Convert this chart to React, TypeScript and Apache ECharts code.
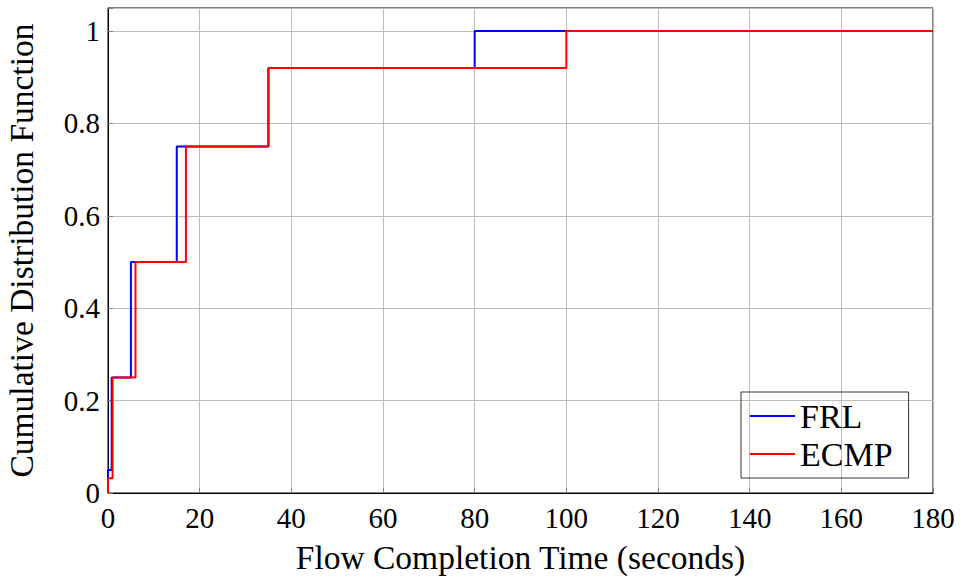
import React, { useEffect, useRef } from "react";
import * as echarts from "echarts";

const seriesNames = ["FRL", "ECMP"];
const frlPoints: [number, number][] = [
  [0, 0], [0, 0.05], [0.8, 0.25], [5, 0.5], [15, 0.75], [35, 0.92], [80, 1], [180, 1],
];
const ecmpPoints: [number, number][] = [
  [0, 0], [0, 0.032], [1, 0.25], [6, 0.5], [17, 0.75], [35, 0.92], [100, 1], [180, 1],
];
const xTitle = "Flow Completion Time (seconds)";
const yTitle = "Cumulative Distribution Function";

const FONT = "'Liberation Serif', 'DejaVu Serif', serif";

export default function App() {
  const ref = useRef<HTMLDivElement>(null);
  useEffect(() => {
    if (!ref.current) return;
    const chart = echarts.init(ref.current, undefined, { renderer: "svg" });
    chart.setOption({
      animation: false,
      textStyle: { fontFamily: FONT, color: "#000" },
      grid: {
        left: 108, right: 29, top: 8, bottom: 85,
        containLabel: false,
        outerBoundsMode: "none",
        show: true, borderColor: "#000", borderWidth: 1, backgroundColor: "transparent",
      },
      legend: {
        orient: "vertical",
        left: 741,
        top: 392,
        data: seriesNames,
        icon: "rect",
        itemWidth: 45,
        itemHeight: 2,
        itemGap: 4,
        borderColor: "#333",
        borderWidth: 1,
        borderRadius: 0,
        padding: [7, 16, 7, 9],
        textStyle: { fontFamily: FONT, fontSize: 34, color: "#000" },
      },
      xAxis: {
        type: "value",
        min: 0,
        max: 180,
        interval: 20,
        name: xTitle,
        nameLocation: "middle",
        nameGap: 47,
        nameTextStyle: { fontFamily: FONT, fontSize: 33.5, color: "#000" },
        axisLine: { show: true, onZero: false, lineStyle: { color: "#000", width: 1 } },
        axisTick: { show: true, inside: true, length: 5, lineStyle: { color: "#808080" } },
        axisLabel: { fontFamily: FONT, fontSize: 29, color: "#000", margin: 10 },
        splitLine: { show: true, lineStyle: { color: "#bdbdbd", width: 1 } },
      },
      yAxis: {
        type: "value",
        min: 0,
        max: 1.05,
        interval: 0.2,
        name: yTitle,
        nameLocation: "middle",
        nameGap: 70,
        nameTextStyle: { fontFamily: FONT, fontSize: 33.5, color: "#000" },
        axisLine: { show: true, lineStyle: { color: "#000", width: 1 } },
        axisTick: { show: true, inside: true, length: 5, lineStyle: { color: "#808080" } },
        axisLabel: {
          fontFamily: FONT,
          fontSize: 29,
          color: "#000",
          margin: 8,
          formatter: (v: number) => (v > 1.001 ? "" : String(Math.round(v * 10) / 10)),
        },
        splitLine: { show: true, lineStyle: { color: "#bdbdbd", width: 1 } },
      },
      series: [
        {
          name: seriesNames[0],
          type: "line",
          step: "end",
          data: frlPoints,
          showSymbol: false,
          symbol: "none",
          lineStyle: { color: "#0000ff", width: 2 },
          itemStyle: { color: "#0000ff" },
          z: 2,
        },
        {
          name: seriesNames[1],
          type: "line",
          step: "end",
          data: ecmpPoints,
          showSymbol: false,
          symbol: "none",
          lineStyle: { color: "#ff0000", width: 2 },
          itemStyle: { color: "#ff0000" },
          z: 3,
        },
      ],
    });
    return () => chart.dispose();
  }, []);
  return <div ref={ref} style={{ width: 962, height: 578, position: "absolute", left: 0, top: 0 }} />;
}
